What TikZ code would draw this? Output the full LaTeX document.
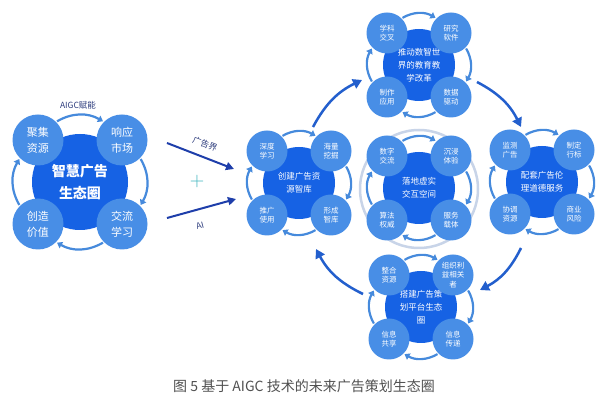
\documentclass[tikz,border=0pt]{standalone}
\usepackage{fontspec}
\newfontfamily\cjk{Noto Sans CJK SC}
\usetikzlibrary{arrows.meta,calc}
\definecolor{satblue}{RGB}{72,142,230}
\definecolor{cenblue}{RGB}{22,98,228}
\definecolor{cycblue}{RGB}{70,138,220}
\definecolor{bigblue}{RGB}{35,95,205}
\definecolor{navy}{RGB}{30,62,170}
\definecolor{labnavy}{RGB}{45,60,125}
\definecolor{ringgray}{RGB}{200,212,232}
\definecolor{plusteal}{RGB}{60,180,190}
\definecolor{capgray}{RGB}{80,80,80}
\tikzset{
  sat/.style={circle, fill=satblue, text=white, inner sep=0pt, minimum size=41pt, align=center, font=\cjk\fontsize{7.5}{9.5}\selectfont},
  bigsat/.style={sat, minimum size=51pt, font=\cjk\fontsize{11}{16}\selectfont},
  cen/.style={circle, fill=cenblue, text=white, inner sep=0pt, minimum size=72pt, align=center, font=\cjk\fontsize{8.5}{13}\selectfont},
  bigcen/.style={cen, minimum size=96pt, font=\cjk\bfseries\fontsize{14}{22}\selectfont},
  cyc/.style={draw=cycblue, line width=2.2pt, -{Triangle[length=5pt,width=7pt]}, shorten <=1pt, shorten >=1pt},
  bigarr/.style={draw=bigblue, line width=2.5pt, -{Triangle[length=9pt,width=10pt]}},
  inarr/.style={draw=navy, line width=2pt, -{Triangle[length=8pt,width=8pt]}},
  lab/.style={text=labnavy, font=\cjk\fontsize{8.5}{10}\selectfont, inner sep=0pt},
}
\newcommand\clusterdraw[8]{%
  \node[cen] (#1c) at (#2, 415-#3) {#4};
  \node[sat] (#1tl) at ($(#1c)+(-32,32)$) {#5};
  \node[sat] (#1tr) at ($(#1c)+(32,32)$) {#6};
  \node[sat] (#1br) at ($(#1c)+(32,-32)$) {#7};
  \node[sat] (#1bl) at ($(#1c)+(-32,-32)$) {#8};
  \draw[cyc] (#1tl.north east) to[bend left=30] (#1tr.north west);
  \draw[cyc] (#1tr.south east) to[bend left=30] (#1br.north east);
  \draw[cyc] (#1br.south west) to[bend left=30] (#1bl.south east);
  \draw[cyc] (#1bl.north west) to[bend left=30] (#1tl.south west);
}
\begin{document}
\begin{tikzpicture}[x=1pt,y=1pt]
\fill[white] (0,0) rectangle (614,415);
\useasboundingbox (0,0) rectangle (614,415);

% cluster 1
\node[bigcen] (ac) at (80,233) {智慧广告\\生态圈};
\node[bigsat] (atl) at ($(ac)+(-42,42)$) {聚集\\资源};
\node[bigsat] (atr) at ($(ac)+(42,42)$) {响应\\市场};
\node[bigsat] (abr) at ($(ac)+(42,-42)$) {交流\\学习};
\node[bigsat] (abl) at ($(ac)+(-42,-42)$) {创造\\价值};
\draw[cyc] (atl.north east) to[bend left=30] (atr.north west);
\draw[cyc] (atr.south east) to[bend left=30] (abr.north east);
\draw[cyc] (abr.south west) to[bend left=30] (abl.south east);
\draw[cyc] (abl.north west) to[bend left=30] (atl.south west);
\node[lab] (aigc) at (78,310) {AIGC赋能};

% inputs
\coordinate (q1) at (167,272);
\coordinate (q2) at (234,246);
\coordinate (q3) at (167,197);
\coordinate (q4) at (236,216);
\draw[inarr] (q1) -- (q2);
\draw[inarr] (q3) -- (q4);
\node[lab, rotate=-21] (ggj) at (205,271) {广告界};
\node[lab, rotate=15] (ai) at (200,189) {AI};
\node[text=plusteal, font=\fontsize{20}{20}\selectfont, inner sep=0pt] (plus) at (197,233) {+};

% ring around centre cluster
\node[circle, draw=ringgray, line width=2.5pt, minimum size=118pt, inner sep=0pt] (ring) at (419,226) {};

% small clusters
\clusterdraw{b}{299}{183}{创建广告资\\源智库}{深度\\学习}{海量\\挖掘}{形成\\智库}{推广\\使用}
\clusterdraw{c}{419}{65}{推动数智世\\界的教育教\\学改革}{学科\\交叉}{研究\\软件}{数据\\驱动}{制作\\应用}
\clusterdraw{d}{419}{188}{落地虚实\\交互空间}{数字\\交流}{沉浸\\体验}{服务\\载体}{算法\\权威}
\clusterdraw{e}{542}{182}{配套广告伦\\理道德服务}{监测\\广告}{制定\\行标}{商业\\风险}{协调\\资源}
\clusterdraw{f}{421}{307}{搭建广告策\\划平台生态\\圈}{整合\\资源}{组织利\\益相关\\者}{信息\\传递}{信息\\共享}

% big arrows
\coordinate (p1) at (313,288);
\coordinate (p2) at (362,335);
\coordinate (p3) at (477,333);
\coordinate (p4) at (521,288);
\coordinate (p5) at (521,167);
\coordinate (p6) at (480,125);
\coordinate (p7) at (363,121);
\coordinate (p8) at (316,166);
\draw[bigarr] (p1) to[bend left=18] (p2);
\draw[bigarr] (p3) to[bend left=18] (p4);
\draw[bigarr] (p5) to[bend left=18] (p6);
\draw[bigarr] (p7) to[bend left=18] (p8);

% caption
\node[text=capgray, font=\cjk\fontsize{14}{16}\selectfont, inner sep=0pt] (cap) at (304,29) {图 5 基于 AIGC 技术的未来广告策划生态圈};
\end{tikzpicture}
\end{document}
